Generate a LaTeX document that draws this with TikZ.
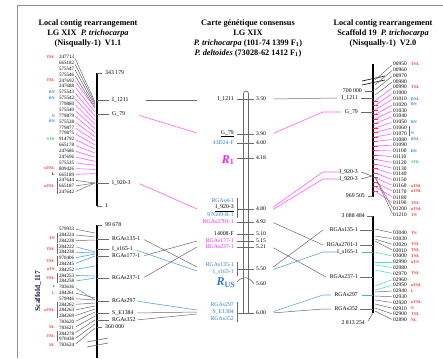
\documentclass[tikz,border=0pt]{standalone}
\usepackage{fontspec}
\setmainfont{Liberation Serif}
\definecolor{pk}{HTML}{FF5CFF}
\definecolor{mag}{HTML}{F020F0}
\definecolor{lbl}{HTML}{5BA4DB}
\definecolor{dbl}{HTML}{2F7DC8}
\definecolor{tq}{HTML}{55E2C2}
\definecolor{rd}{HTML}{FF2B2B}
\definecolor{gn}{HTML}{2CC24E}
\definecolor{gy}{HTML}{6A6A6A}
\definecolor{frm}{HTML}{8E8E8E}
\definecolor{nv}{HTML}{1C1C48}

\begin{document}
\begin{tikzpicture}[x=1pt, y=-1pt,
  ttl/.style={font=\bfseries\fontsize{8.3}{10}\selectfont, align=center, inner sep=0},
  gid/.style={font=\fontsize{5}{5}\selectfont, inner sep=0, anchor=west},
  rid/.style={font=\fontsize{5.4}{5.4}\selectfont, inner sep=0, anchor=west},
  cls/.style={font=\bfseries\fontsize{4}{4}\selectfont, inner sep=0},
  mk/.style={font=\fontsize{5.8}{5.8}\selectfont, inner sep=0},
  cpos/.style={font=\fontsize{5.6}{5.6}\selectfont, inner sep=0, anchor=west},
  big/.style={font=\bfseries\fontsize{12}{12}\selectfont, inner sep=0},
  chr/.style={line width=1.6pt},
  tk/.style={draw=gy, line width=0.6pt},
  gln/.style={draw=gy, line width=0.5pt, shorten <=1.5pt},
  pln/.style={draw=pk, line width=0.6pt, shorten <=1.5pt},
  bln/.style={draw=lbl, line width=0.6pt, shorten <=1.5pt},
  tln/.style={draw=tq, line width=0.6pt, shorten <=1.5pt}
]
\useasboundingbox (0,0) rectangle (443,358);
\draw[frm, line width=0.8pt] (443,5) -- (17,5) -- (17,358);

% titles
\node[ttl] (tl) at (88,33.5) {Local contig rearrangement\\LG XIX \ \textit{P. trichocarpa}\\(Nisqually-1) \ V1.1};
\node[ttl] (tm) at (248,38.5) {Carte génétique consensus\\LG XIX\\\textit{P. trichocarpa} (101-74 1399 F\textsubscript{1})\\\textit{P. deltoides} (73028-62 1412 F\textsubscript{1})};
\node[ttl] (tr) at (383,33.5) {Local contig rearrangement\\Scaffold 19 \ \textit{P. trichocarpa}\\(Nisqually-1) \ V2.0};

% left map, upper part
\draw[chr] (97,73) -- (97,206);
\foreach \y/\x/\t/\n in {73/105/343 179/1, 100/112/I\_1211/2, 114/112/G\_79/3, 183/112/I\_920-3/4, 206/105/1/5}
{
  \node[mk, anchor=west] (lt\n) at (\x,\y) {\t};
  \draw[tk] (97,\y) -- (\x-3,\y);
}
\foreach \id [count=\i] in {247713,665182,575547,575546,247692,247688,575543,575542,779880,575540,779879,575538,779877,779875,914792,665178,247686,247696,575535,809426,665189,247644,665187,247642}
  \node[gid] (lu\i) at (59,{57+(\i-1)*5.87}) {\id};
\foreach \r/\c/\t in {1/rd/TNL,5/rd/TNL,7/dbl/BN,8/dbl/BN,11/dbl/N,12/dbl/BN,15/gn/STK,20/rd/nTNL,21/black/L,23/rd/nTNL}
  \node[cls, anchor=east, text=\c] (cu\r) at (55,{57+(\r-1)*5.87}) {\t};
\draw[gy, line width=0.5pt] (57,{57+21*5.87-2}) -- (57,{57+23*5.87+2});
\foreach \i/\t in {1/102,2/104,3/106,4/108}
{
  \coordinate (au\i) at (95,\t);
  \draw[gln] (lu\i.east) -- (au\i);
}
\foreach \i in {5,...,21}
{
  \coordinate (au\i) at (95,{108+(\i-5)*4.1});
  \draw[pln] (lu\i.east) -- (au\i);
}
\coordinate (au22) at (95,183);
\foreach \i in {22,23,24}
  \draw[gln] (lu\i.east) -- (au22);

% left map, scaffold 117
\draw[chr] (97,225) -- (97,358);
\foreach \y/\x/\t/\n in {225/105/99 678/1, 239/112/RGAs135-1/2, 249/112/I\_s165-1/3, 256/112/RGAs177-1/4, 278/112/RGAs237-1/5, 301/112/RGAs297/6, 313/112/S\_E1384/7, 320/112/RGAs352/8, 327/105/360 000/9}
{
  \node[mk, anchor=west] (ls\n) at (\x,\y) {\t};
  \draw[tk] (97,\y) -- (\x-3,\y);
}
\node[rotate=90, font=\bfseries\fontsize{7.5}{8}\selectfont, text=nv] (scf) at (38,291) {Scaffold\_117};
\foreach \id [count=\i] in {579933,284224,284228,284222,284238,970406,284245,284252,284253,284258,783636,284261,579946,284262,284263,284269,783620,783621,284278,970438,783624}
  \node[gid] (ll\i) at (59,{229+(\i-1)*5.8}) {\id};
\foreach \y/\c/\t/\n in {237.7/rd/TN/a, 249.3/rd/TNL/b, 261/rd/TNL/c, 269.6/rd/nTN/d, 278.3/rd/TNL/e, 287/nv/*/f, 292.8/rd/L/g, 310/rd/nTNL/h, 327.6/rd/NL/i, 336.3/rd/TNL/j, 345/rd/NL/k}
  \node[cls, anchor=east, text=\c] (cl\n) at (55,\y) {\t};
\foreach \a/\b in {2/3,4/5,6/7,9/10,14/16,19/20}
  \draw[gy, line width=0.5pt] (57,{229+(\a-1)*5.8-2}) -- (57,{229+(\b-1)*5.8+2});
\foreach \i/\t/\s in {1/233/gln,2/237/gln,3/240/gln,4/252/bln,5/253/bln,6/254/bln,7/256/bln,8/266/bln,9/276/bln,10/278/bln,11/300/bln,12/298/gln,13/300/gln,14/303/gln,15/306/gln,16/309/gln,17/312/gln,18/316/gln,19/320/gln,20/324/gln,21/328/gln}
{
  \coordinate (al\i) at (95,\t);
  \draw[\s] (ll\i.east) -- (al\i);
}
\draw[gy, line width=0.6pt] (87,342) -- (108,338);
\draw[gy, line width=0.6pt] (87,347) -- (108,343);

% consensus map
\draw[gy, line width=0.7pt, rounded corners=2.5pt] (243.5,313) -- (243.5,91) -- (248.5,91) -- (248.5,313);
\foreach \y/\t/\c/\p/\n in {99/I\_1211/black/3.50/a, 134/\underline{G\_79}/black/3.90/b, 143/43D24-F/dbl/4.00/c, 222/RGAs2701-1/mag/4.92/d, 234/14008-F/black/5.10/e, 241/RGAs177-1/mag/5.15/f, 247/RGAs237-1/mag/5.21/g}
{
  \node[mk, anchor=east, text=\c] (m\n) at (234,\y) {\t};
  \draw[tk] (237,\y) -- (254,\y);
  \node[cpos] (p\n) at (256,\y) {\p};
}
\node[big, text=mag] (mr1) at (228,160) {\textit{R}\textsubscript{1}};
\draw[tk] (237,158) -- (254,158);
\node[cpos] (pr1) at (256,158) {4.18};
\node[big, text=dbl] (mrus) at (226,283) {\textit{R}\textsubscript{US}};
\draw[tk] (237,282) .. controls (242,276) and (249,276) .. (254,284);
\node[cpos] (prus) at (256,284) {5.60};
\foreach \y/\t/\c/\n in {201/RGAs4-1/dbl/h1, 208/\underline{I\_920-3}/black/h2, 215/97G09-R-1/dbl/h3, 265/RGAs135-1/dbl/k1, 272/I\_s165-1/dbl/k2, 305/RGAs297/dbl/s1, 312/S\_E1384/dbl/s2, 319/RGAs352/dbl/s3}
  \node[mk, anchor=east, text=\c] (m\n) at (234,\y) {\t};
\foreach \a/\b/\y/\p/\n in {198/218/209/4.80/h, 262/276/269/5.50/k, 302/322/313/6.00/s}
{
  \draw[tk] (237,\a) -- (237,\b);
  \draw[tk] (237,\y) -- (254,\y);
  \node[cpos] (p\n) at (256,\y) {\p};
}

% right map, upper part
\draw[chr] (373,64) -- (373,197);
\draw[line width=0.6pt] (362,81) -- (385,76);
\draw[line width=0.6pt] (362,85) -- (385,80);
\foreach \y/\x/\t/\n in {91/362/700 000/1, 98/358/I\_1211/2, 112/358/G\_79/3, 196/365/969 505/6}
{
  \node[mk, anchor=east] (rt\n) at (\x,\y) {\t};
  \draw[tk] (\x+3,\y) -- (373,\y);
}
\node[mk, anchor=east] (rt4) at (358,172) {I\_920-3};
\node[mk, anchor=east] (rt5) at (358,179) {I\_920-3};
\draw[tk] (361,172) -- (372,176) -- (361,179);
\foreach \id [count=\i] in {00950,00960,00970,00980,00990,01000,01010,01020,01030,01040,01050,01060,01070,01080,01090,01100,01110,01120,01130,01140,01150,01160,01170,01180,01190,01200,01210}
  \node[rid] (ru\i) at (393,{64+(\i-1)*5.8}) {\id};
\foreach \r/\c/\t in {1/rd/TNL,5/rd/TNL,7/dbl/BNL,8/dbl/BN,11/dbl/BN,13/dbl/N,14/dbl/BNL,16/dbl/BN,18/gn/STK,22/rd/nTNL,23/rd/nTNL,25/rd/TNL,26/rd/nTNL,27/rd/TN}
  \node[cls, anchor=west, text=\c] (cr\r) at (411,{64+(\r-1)*5.8}) {\t};
\draw[gy, line width=0.5pt] (409,{64+11*5.8-2}) -- (409,{64+12*5.8+2});
\foreach \i/\t in {1/80,2/85,3/90,4/95}
{
  \coordinate (bu\i) at (375,\t);
  \draw[gln] (ru\i.west) -- (bu\i);
}
\foreach \i in {5,...,25}
{
  \coordinate (bu\i) at (375,{101+(\i-5)*4.5});
  \draw[rd, line width=0.9pt] (373,{101+(\i-5)*4.5}) -- (378,{101+(\i-5)*4.5});
  \draw[pln] (ru\i.west) -- (bu\i);
}
\coordinate (bu26) at (375,177);
\foreach \i in {26,27}
  \draw[gln] (ru\i.west) -- (bu26);

% right map, lower part
\draw[chr] (373,216) -- (373,313);
\node[mk, anchor=east] (rb0) at (365,216) {3 088 484};
\draw[tk] (367,216) -- (373,216);
\foreach \y/\t/\s/\n in {230/RGAs135-1/tk/1, 245/RGAs2701-1/tk/2, 252/I\_s165-1/bln/3, 277/RGAs237-1/tk/4, 295/RGAs297/bln/5, 309/RGAs352/tk/6}
{
  \node[mk, anchor=east] (rb\n) at (358,\y) {\t};
  \draw[\s] (360,\y) -- (373,\y);
}
\node[mk, anchor=east] (rb7) at (365,323) {2 813 254};
\draw[tk] (368,321) -- (373,313);
\foreach \id [count=\i] in {03040,03030,03020,03010,03000,02990,02980,02970,02960,02950,02940,02930,02920,02910,02900,02890}
  \node[rid] (rl\i) at (393,{233+(\i-1)*5.8}) {\id};
\foreach \r/\t in {1/TN,3/TNL,4/TNL,5/TNL,6/nTN,8/TNL,10/nTNL,11/L,13/nTNL,14/N,15/TNL,16/NL}
  \node[cls, anchor=west, text=rd] (cq\r) at (411,{233+(\r-1)*5.8}) {\t};
\foreach \i/\t/\s in {1/229/gln,2/236/gln,3/239/gln,4/241/gln,5/252/tln,6/262/tln,7/265/tln,8/270/tln,9/286/tln,10/290/tln,11/292/gln,12/296/gln,13/300/gln,14/304/gln,15/308/gln,16/311/gln}
{
  \coordinate (bl\i) at (375,\t);
  \draw[\s] (rl\i.west) -- (bl\i);
}

% connectors to the consensus map
\foreach \n/\x/\y in {ea/144/100, eb/197/100, ec/138/115, ed/197/133, ee/138/183, ef/197/209,
  eg/143/239, eh/197/267, ei/136/250, ej/197/271, ek/143/256, el/197/241, em/143/278, en/197/247,
  eo/136/301, ep/197/310, eq/136/313, er/197/312, es/136/320, et/197/314}
  \coordinate (\n) at (\x,\y);
\draw[gln] (ea) -- (eb);
\draw[pln] (ec) -- (ed);
\draw[pln] (ee) -- (ef);
\draw[gln] (eg) -- (eh);
\draw[bln] (ei) -- (ej);
\draw[gln] (ek) -- (el);
\draw[gln] (em) -- (en);
\draw[bln] (eo) -- (ep);
\draw[gln] (eq) -- (er);
\draw[gln] (es) -- (et);
\foreach \n/\x/\y in {fa/272/99, fb/337/98, fc/272/134, fd/323/112, fe/341/112, ff/272/208, fg/323/172, fh/339/172,
  fi/272/210, fj/323/179, fk/339/179, fl/272/222, fm/323/245, fn/272/247, fo/326/277, fp/272/268, fq/323/230,
  fr/272/270, fs/323/252, ft/338/252, fu/272/312, fv/323/295, fw/331/295, fx/272/313, fy/323/309, fz/331/309}
  \coordinate (\n) at (\x,\y);
\draw[gln] (fa) -- (fb);
\draw[pln] (fc) -- (fd) -- (fe);
\draw[pln] (ff) -- (fg) -- (fh);
\draw[pln] (fi) -- (fj) -- (fk);
\draw[gln] (fl) -- (fm);
\draw[gln] (fn) -- (fo);
\draw[gln] (fp) -- (fq);
\draw[bln] (fr) -- (fs) -- (ft);
\draw[bln] (fu) -- (fv) -- (fw);
\draw[gln] (fx) -- (fy) -- (fz);
\end{tikzpicture}
\end{document}
